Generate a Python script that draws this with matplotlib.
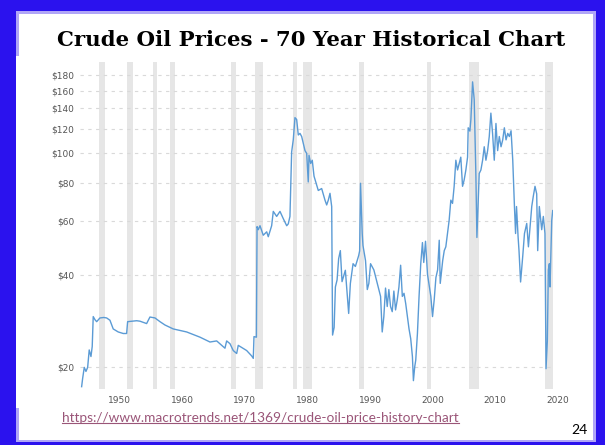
import matplotlib
matplotlib.use("Agg")
import matplotlib.pyplot as plt
from matplotlib.patches import Rectangle
from matplotlib.lines import Line2D
import matplotlib.transforms as mtransforms
import matplotlib.ticker as mticker

# ---------------- data (inflation-adjusted crude oil price, USD) ----------------
years = [1946.06, 1946.22, 1946.48, 1946.75, 1947.02, 1947.27, 1947.55, 1947.75, 1947.91,
         1948.20, 1948.46, 1948.98, 1949.60, 1950.05, 1950.58, 1951.10, 1951.90, 1952.70,
         1953.24, 1953.40, 1954.84, 1955.37, 1956.43, 1956.96, 1957.76, 1958.56, 1959.36,
         1960.68, 1962.82, 1964.94, 1966.54, 1967.61, 1968.93, 1969.20, 1969.73, 1970.25,
         1970.80, 1971.05, 1972.39, 1973.19, 1973.45, 1973.56, 1973.95,
         1974.05, 1974.25, 1974.52, 1975.04, 1975.59, 1975.84, 1976.38, 1976.64, 1977.18,
         1977.71, 1978.23, 1978.78, 1979.03, 1979.30, 1979.57, 1979.83, 1980.10, 1980.37,
         1980.63, 1980.90, 1981.17, 1981.70, 1981.97, 1982.22, 1982.34, 1982.61, 1982.86,
         1983.14, 1983.82, 1984.36, 1984.89, 1985.16, 1985.42, 1985.69, 1985.96,
         1986.10, 1986.35, 1986.55, 1986.82, 1987.07, 1987.34, 1987.61, 1988.14, 1988.67,
         1988.94, 1989.37, 1989.74, 1990.26, 1990.42, 1990.56, 1990.83, 1990.95, 1991.36,
         1991.64, 1991.89, 1992.16, 1992.69, 1993.23, 1993.76, 1994.02, 1994.28, 1994.55,
         1994.82, 1995.08, 1995.35, 1995.62, 1995.88, 1996.15, 1996.42, 1996.69, 1996.96,
         1997.23, 1997.50, 1997.77, 1998.30, 1998.57, 1998.84, 1999.00, 1999.21, 1999.37,
         1999.64, 1999.90, 2000.17, 2000.44, 2000.65, 2000.93, 2001.25, 2001.78, 2002.05,
         2002.32, 2002.59, 2002.86, 2003.12, 2003.28, 2003.67, 2003.92, 2004.17, 2004.70,
         2004.97, 2005.24, 2005.50, 2005.77, 2006.04, 2006.30, 2006.56, 2006.84, 2007.10,
         2007.37, 2007.64, 2007.74, 2008.01, 2008.17, 2008.44, 2008.70, 2008.97, 2009.13,
         2009.50, 2009.77, 2010.04, 2010.30, 2010.57, 2010.84, 2011.10, 2011.36, 2011.63,
         2011.90, 2012.17, 2012.44, 2012.70, 2012.98, 2013.25, 2013.51, 2013.78, 2014.05,
         2014.31, 2014.58, 2014.85, 2015.12, 2015.30, 2015.45, 2015.70, 2015.85, 2016.10,
         2016.45, 2016.72, 2017.08, 2017.35, 2017.61, 2017.88, 2018.13, 2018.40, 2018.67,
         2018.83, 2019.09, 2019.47, 2019.73, 2019.99, 2020.16, 2020.37, 2020.53, 2020.69,
         2020.80, 2021.07, 2021.23]
prices = [17.3, 18.4, 20.0, 19.4, 20.0, 22.8, 21.7, 23.4, 29.3,
          28.6, 28.2, 29.0, 29.1, 29.0, 28.5, 26.7, 26.1, 25.8,
          25.8, 28.2, 28.4, 28.3, 27.8, 29.2, 29.0, 28.2, 27.5,
          26.7, 26.1, 25.1, 24.2, 24.4, 23.1, 24.4, 23.9, 22.7,
          22.2, 23.6, 22.7, 21.8, 21.4, 25.2, 25.1,
          57.6, 56.3, 58.0, 54.0, 55.4, 53.4, 58.0, 64.6, 62.2,
          64.6, 61.2, 58.0, 58.8, 62.2, 101.0, 110.7, 130.7, 128.9,
          114.7, 116.1, 113.4, 102.0, 99.9, 80.6, 98.5, 92.6, 94.9,
          84.2, 75.6, 76.7, 70.3, 67.8, 70.3, 74.0, 67.0,
          25.5, 27.0, 36.6, 38.6, 45.3, 48.1, 38.1, 41.5, 30.0,
          37.6, 43.6, 42.7, 46.3, 48.0, 79.8, 54.7, 50.0, 44.6,
          35.9, 37.6, 43.6, 41.6, 37.6, 34.1, 26.1, 29.3, 36.3,
          31.6, 35.9, 31.6, 30.4, 35.5, 30.8, 33.2, 36.6, 43.1,
          34.1, 34.9, 32.3, 26.7, 24.8, 21.7, 18.1, 20.1, 21.1,
          25.8, 34.1, 43.6, 51.1, 44.0, 51.6, 40.2, 34.1, 29.3,
          33.3, 39.3, 41.6, 52.0, 37.6, 44.6, 48.1, 49.5, 60.4,
          70.3, 68.6, 78.0, 94.9, 88.2, 92.6, 97.1, 78.0, 81.9,
          88.2, 97.1, 121.1, 118.1, 128.9, 171.0, 149.8, 84.1, 53.1,
          85.9, 88.2, 94.9, 105.0, 94.9, 102.0, 113.4, 135.2, 116.1,
          94.9, 125.1, 102.0, 113.4, 105.0, 110.6, 121.1, 110.6, 116.1,
          113.4, 118.4, 94.9, 67.0, 54.7, 67.0, 53.4, 48.0, 38.0,
          46.3, 54.7, 59.0, 49.5, 57.6, 67.0, 72.4, 78.0, 73.7,
          48.1, 67.0, 56.3, 62.2, 54.7, 19.8, 24.4, 41.6, 43.6,
          36.6, 60.4, 65.0]

recession_start = [1948.87, 1953.34, 1957.39, 1960.15, 1969.84, 1973.77, 1979.83, 1981.43,
                   1990.36, 2001.12, 2007.92, 2020.00]
recession_end = [1949.73, 1954.20, 1958.13, 1960.90, 1970.69, 1975.00, 1980.37, 1982.77,
                 1991.11, 2001.86, 2009.52, 2021.32]

y_ticks = [20, 40, 60, 80, 100, 120, 140, 160, 180]
y_tick_labels = ["$20", "$40", "$60", "$80", "$100", "$120", "$140", "$160", "$180"]
x_ticks = [1950, 1960, 1970, 1980, 1990, 2000, 2010, 2020]
x_tick_labels = ["1950", "1960", "1970", "1980", "1990", "2000", "2010", "2020"]

title = "Crude Oil Prices - 70 Year Historical Chart"
link = "https://www.macrotrends.net/1369/crude-oil-price-history-chart"
page_no = "24"

# ---------------- figure ----------------
W, H = 605, 445
fig = plt.figure(figsize=(W / 100, H / 100), dpi=100)
fig.patch.set_facecolor("#2b12ee")


def rect(x0, y0, x1, y1, color, z=0):
    r = Rectangle((x0 / W, 1 - y1 / H), (x1 - x0) / W, (y1 - y0) / H,
                  transform=fig.transFigure, facecolor=color, edgecolor="none", zorder=z)
    fig.add_artist(r)


rect(15.5, 11, 596, 442, "#b0a6f7", z=-3)     # inner lavender border
rect(18.5, 13.5, 593, 440, "white", z=-2)      # slide interior
rect(15.5, 56, 592, 408, "white", z=-1)        # pasted chart image

ax = fig.add_axes([80 / W, 1 - 389 / H, (553.3 - 80) / W, (389 - 61.7) / H])
ax.set_facecolor("white")
ax.set_yscale("log")
ax.set_ylim(17.0, 199.0)
ax.set_xlim(1945.8, 2021.32)

for s, e in zip(recession_start, recession_end):
    ax.axvspan(s, e, color="#e6e6e6", lw=0, zorder=0.2)

ax.plot(years, prices, color="#5b9bd5", lw=1.0, zorder=3, solid_joinstyle="round")

ax.yaxis.set_major_locator(mticker.FixedLocator(y_ticks))
ax.yaxis.set_minor_locator(mticker.NullLocator())
ax.set_yticklabels(y_tick_labels)
ax.set_xticks(x_ticks)
ax.set_xticklabels(x_tick_labels)
ax.xaxis.set_minor_locator(mticker.NullLocator())

ax.set_axisbelow(True)
ax.yaxis.grid(True, linestyle=(0, (3, 4)), color="#d9d9d9", linewidth=0.8)
ax.xaxis.grid(False)
for sp in ax.spines.values():
    sp.set_visible(False)
ax.tick_params(axis="both", length=0, labelsize=6.5, labelcolor="#555555")
ax.tick_params(axis="y", pad=4)
ax.tick_params(axis="x", pad=5)

offset = mtransforms.ScaledTranslation(1.5 / 100, 0, fig.dpi_scale_trans)
for lbl in ax.get_xticklabels():
    lbl.set_horizontalalignment("left")
    lbl.set_transform(lbl.get_transform() + offset)

fig.text(311 / W, 1 - 39.5 / H, title, ha="center", va="center",
         fontfamily="DejaVu Serif", fontweight="bold", fontsize=15.3, color="black")

t = fig.text(62 / W, 1 - 417.5 / H, link, ha="left", va="center",
             fontfamily="Lato", fontsize=9.8, color="#9a5578")
fig.text(579 / W, 1 - 430 / H, page_no, ha="center", va="center",
         fontfamily="Lato", fontsize=10, color="black")

fig.canvas.draw()
bb = t.get_window_extent()
uy = bb.y0 + 1.0
fig.add_artist(Line2D([bb.x0, bb.x1], [uy, uy], transform=mtransforms.IdentityTransform(),
                      color="#9a5578", lw=0.8))

fig.savefig("out.png", dpi=100)
